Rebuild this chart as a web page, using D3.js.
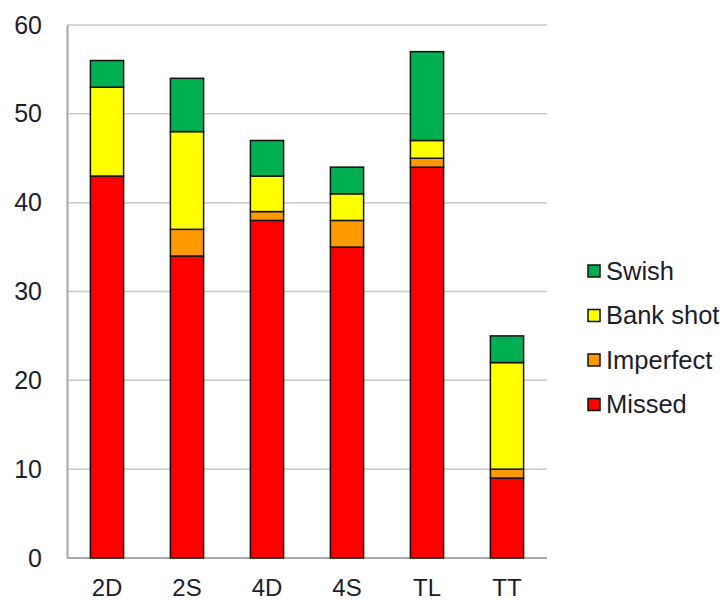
<!DOCTYPE html>
<html>
<head>
<meta charset="utf-8">
<script src="https://cdn.jsdelivr.net/npm/d3@7"></script>
<style>
  html, body { margin: 0; padding: 0; background: #fff; }
  svg { display: block; }
  text { font-family: "Liberation Sans", Arial, sans-serif; fill: #1c1c2c; }
</style>
</head>
<body>
<svg id="chart" width="728" height="603"></svg>
<script>
// Shot categories and outcome counts (stacked bottom to top)
const categories = ["2D", "2S", "4D", "4S", "TL", "TT"];
const missed     = [43, 34, 38, 35, 44, 9];
const imperfect  = [0, 3, 1, 3, 1, 1];
const bankShot   = [10, 11, 4, 3, 2, 12];
const swish      = [3, 6, 4, 3, 10, 3];
const seriesNames  = ["Missed", "Imperfect", "Bank shot", "Swish"];
const seriesColors = ["#ff0000", "#ff9900", "#ffff00", "#00b050"];
const yTicks = [0, 10, 20, 30, 40, 50, 60];

const rows = categories.map((c, i) => ({
  cat: c,
  "Missed": missed[i],
  "Imperfect": imperfect[i],
  "Bank shot": bankShot[i],
  "Swish": swish[i]
}));

const svg = d3.select("#chart");
const margin = { left: 67, right: 181, top: 25, bottom: 45 };
const W = 728, H = 603;

const x = d3.scaleBand()
  .domain(categories)
  .range([margin.left, W - margin.right])
  .paddingInner(0.585)
  .paddingOuter(0.2925);

const y = d3.scaleLinear()
  .domain([0, 60])
  .range([H - margin.bottom, margin.top]);

const color = d3.scaleOrdinal().domain(seriesNames).range(seriesColors);

// Horizontal gridlines
svg.append("g")
  .selectAll("line")
  .data(yTicks.filter(t => t > 0))
  .join("line")
  .attr("x1", margin.left)
  .attr("x2", W - margin.right)
  .attr("y1", d => y(d))
  .attr("y2", d => y(d))
  .attr("stroke", "#c8c8c8")
  .attr("stroke-width", 1.5);

// Y axis
const yAxis = svg.append("g")
  .attr("transform", `translate(${margin.left},0)`)
  .call(d3.axisLeft(y).tickValues(yTicks).tickSize(0).tickPadding(25));
yAxis.select(".domain").attr("stroke", "#a8a8a8").attr("stroke-width", 2);
yAxis.selectAll("text")
  .attr("font-size", 25)
  .attr("font-family", "Liberation Sans, Arial, sans-serif")
  .attr("fill", "#1c1c2c");

// X axis
const xAxis = svg.append("g")
  .attr("transform", `translate(0,${y(0)})`)
  .call(d3.axisBottom(x).tickSize(0).tickPadding(21));
xAxis.select(".domain").attr("stroke", "#a8a8a8").attr("stroke-width", 2)
  .attr("d", `M${margin.left},0H${W - margin.right}`);
xAxis.selectAll("text")
  .attr("font-size", 24)
  .attr("font-family", "Liberation Sans, Arial, sans-serif")
  .attr("fill", "#1c1c2c");

// Stacked bars
const stacked = d3.stack().keys(seriesNames)(rows);
svg.append("g")
  .selectAll("g")
  .data(stacked)
  .join("g")
  .attr("fill", d => color(d.key))
  .selectAll("rect")
  .data(d => d.filter(s => s[1] - s[0] > 0))
  .join("rect")
  .attr("x", d => x(d.data.cat))
  .attr("width", x.bandwidth())
  .attr("y", d => y(d[1]))
  .attr("height", d => y(d[0]) - y(d[1]))
  .attr("stroke", "#111")
  .attr("stroke-width", 1.5);

// Legend (top entry is the top of the stack)
const legendItems = seriesNames.slice().reverse();
const legend = svg.append("g").attr("transform", "translate(588,271)");
const item = legend.selectAll("g")
  .data(legendItems)
  .join("g")
  .attr("transform", (d, i) => `translate(0,${i * 44.5})`);
item.append("rect")
  .attr("x", 0).attr("y", -6)
  .attr("width", 12).attr("height", 12)
  .attr("fill", d => color(d))
  .attr("stroke", "#111")
  .attr("stroke-width", 1.5);
item.append("text")
  .attr("x", 18)
  .attr("y", 0)
  .attr("dy", "0.35em")
  .attr("font-size", 25.5)
  .text(d => d);
</script>
</body>
</html>
